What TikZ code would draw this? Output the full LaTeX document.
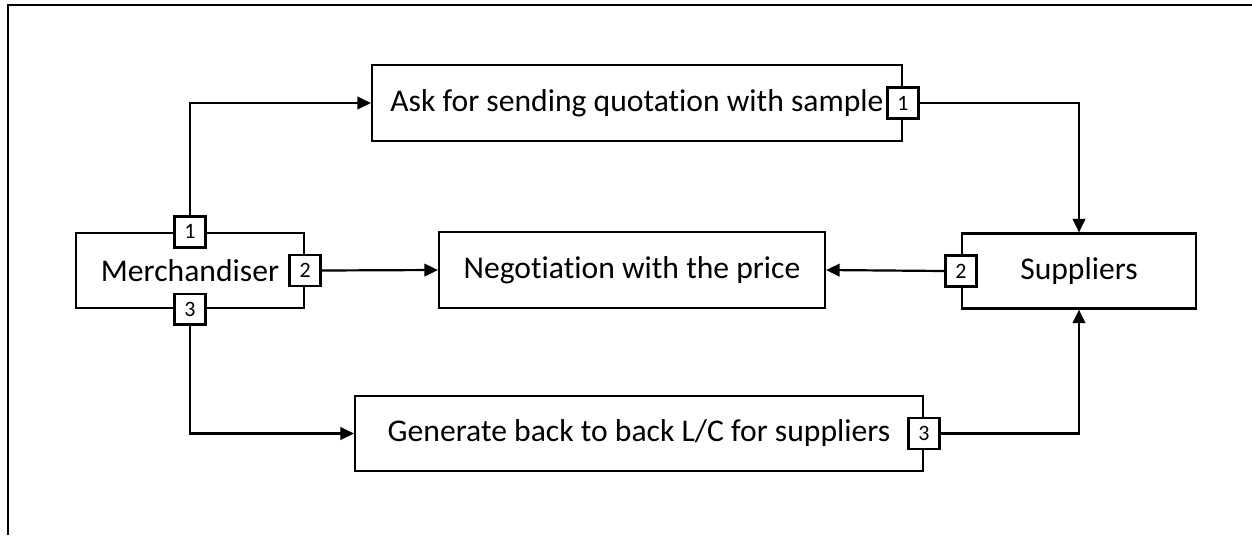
\documentclass[tikz,border=0pt]{standalone}
\usepackage{fontspec}
\setmainfont{Carlito}[Ligatures=NoCommon]
\usetikzlibrary{arrows.meta}

\begin{document}
\begin{tikzpicture}[x=0.02cm, y=-0.02cm,
    box/.style={draw, line width=1.25pt, minimum height=1.5cm, inner sep=0pt,
      font=\fontsize{18}{21}\selectfont},
    port/.style={draw, fill=white, line width=1.25pt, minimum size=0.62cm, inner sep=0pt,
      font=\fontsize{12.5}{14}\selectfont},
    link/.style={line width=1.25pt, -{Triangle[length=2.7mm, width=2.5mm]}}]
      \useasboundingbox (0,0) rectangle (1252,535);

      % Frame
      \draw[line width=1.7pt] (8,535) -- (8,5) -- (1252,5);

      % Steps
      \node[box, minimum width=4.56cm] (merch) at (190,270.5) {Merchandiser};
      \node[box, minimum width=10.6cm, minimum height=1.52cm] (ask) at (637,103) {Ask for sending quotation with sample};
      \node[box, minimum width=7.72cm, minimum height=1.52cm] (nego) at (632,270) {Negotiation with the price};
      \node[box, minimum width=4.68cm] (supp) at (1079,271) {Suppliers};
      \node[box, minimum width=11.36cm] (gen) at (639,433.5) {Generate back to back L/C for suppliers};

      % Ports
      \node[port] (m1) at (merch.north) {1};
      \node[port] (m2) at (merch.east)  {2};
      \node[port] (m3) at (merch.south) {3};
      \node[port] (a1) at (ask.east)    {1};
      \node[port] (s2) at (supp.west)   {2};
      \node[port] (g3) at (gen.east)    {3};

      % Flows
      \draw[link] (m1.north) |- (ask.west);
      \draw[link] (a1.east) -| (supp.north);
      \draw[link] (m2.east) -- (nego.west);
      \draw[link] (s2.west) -- (nego.east);
      \draw[link] (m3.south) |- (gen.west);
      \draw[link] (g3.east) -| (supp.south);
\end{tikzpicture}
\end{document}
